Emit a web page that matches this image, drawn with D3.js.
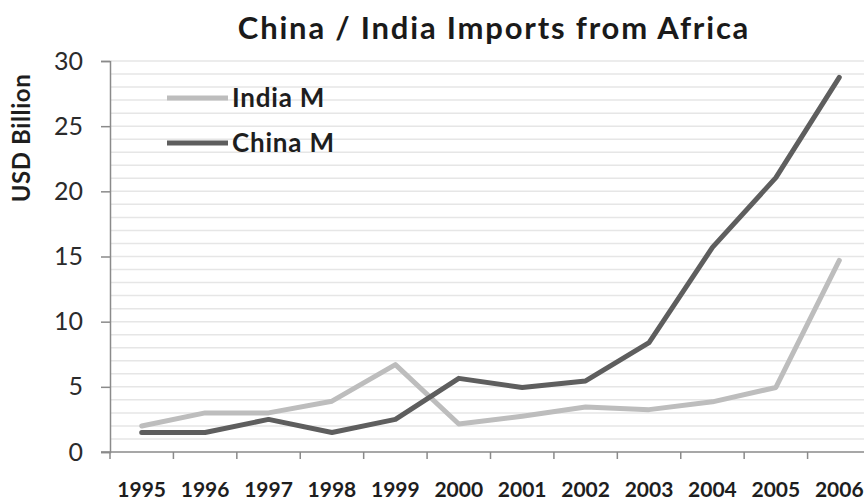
<!DOCTYPE html>
<html>
<head>
<meta charset="utf-8">
<script src="https://cdn.jsdelivr.net/npm/d3@7"></script>
<style>
  html, body { margin: 0; padding: 0; background: #fff; }
  svg { display: block; font-family: Lato, "Open Sans", sans-serif; }
</style>
</head>
<body>
<svg id="chart"></svg>
<script>
// data
const years = ['1995', '1996', '1997', '1998', '1999', '2000', '2001', '2002', '2003', '2004', '2005', '2006'];
const indiaM = [2.0, 3.0, 3.0, 3.9, 6.7, 2.15, 2.75, 3.45, 3.25, 3.85, 4.95, 14.7];
const chinaM = [1.5, 1.5, 2.5, 1.5, 2.5, 5.65, 4.95, 5.45, 8.4, 15.7, 21.05, 28.75];
const yTicks = [0, 5, 10, 15, 20, 25, 30];

var width = 864,
    height = 501;

const series = [
    {name: 'India M', values: indiaM, color: '#bdbdbd'},
    {name: 'China M', values: chinaM, color: '#5e5e5e'}
];

const svg = d3.select('#chart')
    .attr('width', width)
    .attr('height', height);

let x = d3.scaleBand().domain(years).range([110, 871]);
let y = d3.scaleLinear().domain([0, 30]).range([452, 61]);

// light minor gridlines, one per unit
svg.append('g')
    .selectAll('line')
    .data(d3.range(1, 31))
    .enter().append('line')
        .attr('x1', 111)
        .attr('x2', width)
        .attr('y1', d => y(d))
        .attr('y2', d => y(d))
        .attr('stroke', '#e6e6e6')
        .attr('stroke-width', 1.5);

// y axis
let yAxis = svg.append('g')
    .attr('transform', 'translate(110,0)')
    .call(d3.axisLeft(y).tickValues(yTicks).tickSize(9).tickPadding(18));
yAxis.select('.domain').attr('stroke', '#8a8a8a').attr('stroke-width', 1.5);
yAxis.selectAll('.tick line').attr('stroke', '#8a8a8a').attr('stroke-width', 1.5);
yAxis.selectAll('.tick text')
    .attr('font-family', 'Lato, sans-serif')
    .attr('font-size', 25)
    .attr('fill', '#2b2b2b');

// x axis: ticks at category boundaries
let xg = svg.append('g');
xg.append('line')
    .attr('x1', 101).attr('x2', width)
    .attr('y1', y(0)).attr('y2', y(0))
    .attr('stroke', '#8a8a8a').attr('stroke-width', 1.5);
xg.selectAll('.xtick')
    .data(years)
    .enter().append('line')
        .attr('class', 'xtick')
        .attr('x1', d => x(d)).attr('x2', d => x(d))
        .attr('y1', y(0)).attr('y2', y(0) + 7)
        .attr('stroke', '#8a8a8a').attr('stroke-width', 1.5);
xg.selectAll('.xlabel')
    .data(years)
    .enter().append('text')
        .attr('class', 'xlabel')
        .attr('x', d => x(d) + x.bandwidth() / 2)
        .attr('y', 497)
        .attr('text-anchor', 'middle')
        .attr('font-size', 21)
        .attr('font-weight', 'bold')
        .attr('fill', '#1e1e1e')
        .text(d => d);

// lines
let line = d3.line()
    .x((d, i) => x(years[i]) + x.bandwidth() / 2)
    .y(d => y(d));

svg.append('g')
    .selectAll('path')
    .data(series)
    .enter().append('path')
        .attr('d', d => line(d.values))
        .attr('fill', 'none')
        .attr('stroke', d => d.color)
        .attr('stroke-width', 5)
        .attr('stroke-linejoin', 'round')
        .attr('stroke-linecap', 'round');

// legend
let legend = svg.append('g')
    .selectAll('g')
    .data(series)
    .enter().append('g')
        .attr('transform', (d, i) => `translate(167,${98 + i * 45})`);
legend.append('line')
    .attr('x1', 0).attr('x2', 61)
    .attr('stroke', d => d.color)
    .attr('stroke-width', 5);
legend.append('text')
    .attr('x', 65)
    .attr('dy', '0.35em')
    .attr('font-size', 26)
    .attr('font-weight', 'bold')
    .attr('letter-spacing', 0.8)
    .attr('fill', '#1e1e1e')
    .text(d => d.name);

// title
svg.append('text')
    .attr('x', 494)
    .attr('y', 39)
    .attr('text-anchor', 'middle')
    .attr('font-size', 31)
    .attr('font-weight', 'bold')
    .attr('letter-spacing', 1.8)
    .attr('fill', '#1a1a1a')
    .text('China / India Imports from Africa');

// y axis title
svg.append('text')
    .attr('transform', 'translate(30,138) rotate(-90)')
    .attr('text-anchor', 'middle')
    .attr('font-size', 24)
    .attr('font-weight', 'bold')
    .attr('letter-spacing', 0.6)
    .attr('fill', '#1e1e1e')
    .text('USD Billion');
</script>
</body>
</html>
